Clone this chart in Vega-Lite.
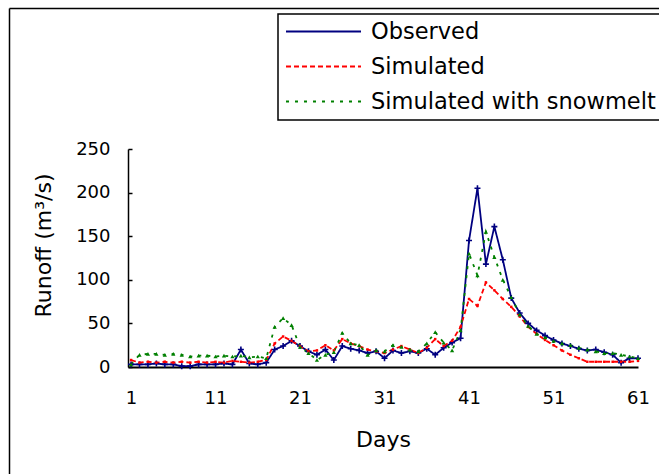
{
  "$schema": "https://vega.github.io/schema/vega-lite/v6.json",
  "width": 510,
  "height": 218,
  "autosize": {"type": "none"},
  "padding": {"left": 128, "top": 149, "right": 21, "bottom": 107},
  "background": "#ffffff",
  "data": {
    "values": [
      {"day": 1, "Observed": 3, "Simulated": 8, "Simulated with snowmelt": 3},
      {"day": 2, "Observed": 3, "Simulated": 5, "Simulated with snowmelt": 14},
      {"day": 3, "Observed": 3, "Simulated": 6, "Simulated with snowmelt": 15},
      {"day": 4, "Observed": 4, "Simulated": 5, "Simulated with snowmelt": 15},
      {"day": 5, "Observed": 3, "Simulated": 6, "Simulated with snowmelt": 14},
      {"day": 6, "Observed": 3, "Simulated": 5, "Simulated with snowmelt": 15},
      {"day": 7, "Observed": 1, "Simulated": 6, "Simulated with snowmelt": 14},
      {"day": 8, "Observed": 1, "Simulated": 5, "Simulated with snowmelt": 12},
      {"day": 9, "Observed": 3, "Simulated": 6, "Simulated with snowmelt": 13},
      {"day": 10, "Observed": 3, "Simulated": 5, "Simulated with snowmelt": 13},
      {"day": 11, "Observed": 3, "Simulated": 6, "Simulated with snowmelt": 12},
      {"day": 12, "Observed": 4, "Simulated": 5, "Simulated with snowmelt": 13},
      {"day": 13, "Observed": 3, "Simulated": 7, "Simulated with snowmelt": 12},
      {"day": 14, "Observed": 20, "Simulated": 6, "Simulated with snowmelt": 13},
      {"day": 15, "Observed": 4, "Simulated": 5, "Simulated with snowmelt": 11},
      {"day": 16, "Observed": 3, "Simulated": 6, "Simulated with snowmelt": 12},
      {"day": 17, "Observed": 5, "Simulated": 8, "Simulated with snowmelt": 10},
      {"day": 18, "Observed": 20, "Simulated": 27, "Simulated with snowmelt": 46},
      {"day": 19, "Observed": 24, "Simulated": 35, "Simulated with snowmelt": 56},
      {"day": 20, "Observed": 30, "Simulated": 30, "Simulated with snowmelt": 48},
      {"day": 21, "Observed": 24, "Simulated": 24, "Simulated with snowmelt": 23},
      {"day": 22, "Observed": 18, "Simulated": 18, "Simulated with snowmelt": 16},
      {"day": 23, "Observed": 14, "Simulated": 19, "Simulated with snowmelt": 8},
      {"day": 24, "Observed": 20, "Simulated": 25, "Simulated with snowmelt": 14},
      {"day": 25, "Observed": 8, "Simulated": 19, "Simulated with snowmelt": 17},
      {"day": 26, "Observed": 24, "Simulated": 32, "Simulated with snowmelt": 39},
      {"day": 27, "Observed": 21, "Simulated": 27, "Simulated with snowmelt": 27},
      {"day": 28, "Observed": 19, "Simulated": 24, "Simulated with snowmelt": 25},
      {"day": 29, "Observed": 16, "Simulated": 20, "Simulated with snowmelt": 14},
      {"day": 30, "Observed": 18, "Simulated": 18, "Simulated with snowmelt": 19},
      {"day": 31, "Observed": 10, "Simulated": 16, "Simulated with snowmelt": 18},
      {"day": 32, "Observed": 19, "Simulated": 20, "Simulated with snowmelt": 25},
      {"day": 33, "Observed": 16, "Simulated": 24, "Simulated with snowmelt": 23},
      {"day": 34, "Observed": 18, "Simulated": 20, "Simulated with snowmelt": 20},
      {"day": 35, "Observed": 16, "Simulated": 16, "Simulated with snowmelt": 18},
      {"day": 36, "Observed": 21, "Simulated": 22, "Simulated with snowmelt": 27},
      {"day": 37, "Observed": 14, "Simulated": 32, "Simulated with snowmelt": 40},
      {"day": 38, "Observed": 22, "Simulated": 24, "Simulated with snowmelt": 28},
      {"day": 39, "Observed": 28, "Simulated": 30, "Simulated with snowmelt": 19},
      {"day": 40, "Observed": 33, "Simulated": 46, "Simulated with snowmelt": 42},
      {"day": 41, "Observed": 145, "Simulated": 78, "Simulated with snowmelt": 130},
      {"day": 42, "Observed": 205, "Simulated": 70, "Simulated with snowmelt": 105},
      {"day": 43, "Observed": 118, "Simulated": 97, "Simulated with snowmelt": 155},
      {"day": 44, "Observed": 161, "Simulated": 88, "Simulated with snowmelt": 126},
      {"day": 45, "Observed": 123, "Simulated": 78, "Simulated with snowmelt": 100},
      {"day": 46, "Observed": 79, "Simulated": 69, "Simulated with snowmelt": 80},
      {"day": 47, "Observed": 62, "Simulated": 58, "Simulated with snowmelt": 60},
      {"day": 48, "Observed": 50, "Simulated": 46, "Simulated with snowmelt": 47},
      {"day": 49, "Observed": 42, "Simulated": 38, "Simulated with snowmelt": 38},
      {"day": 50, "Observed": 36, "Simulated": 31, "Simulated with snowmelt": 34},
      {"day": 51, "Observed": 31, "Simulated": 25, "Simulated with snowmelt": 30},
      {"day": 52, "Observed": 27, "Simulated": 19, "Simulated with snowmelt": 27},
      {"day": 53, "Observed": 24, "Simulated": 14, "Simulated with snowmelt": 25},
      {"day": 54, "Observed": 21, "Simulated": 10, "Simulated with snowmelt": 22},
      {"day": 55, "Observed": 19, "Simulated": 6, "Simulated with snowmelt": 20},
      {"day": 56, "Observed": 20, "Simulated": 6, "Simulated with snowmelt": 18},
      {"day": 57, "Observed": 17, "Simulated": 6, "Simulated with snowmelt": 16},
      {"day": 58, "Observed": 14, "Simulated": 6, "Simulated with snowmelt": 16},
      {"day": 59, "Observed": 5, "Simulated": 6, "Simulated with snowmelt": 14},
      {"day": 60, "Observed": 10, "Simulated": 6, "Simulated with snowmelt": 12},
      {"day": 61, "Observed": 10, "Simulated": 7, "Simulated with snowmelt": 10}
    ]
  },
  "transform": [
    {"fold": ["Observed", "Simulated", "Simulated with snowmelt"], "as": ["series", "value"]}
  ],
  "resolve": {"scale": {"x": "independent", "y": "independent"}, "axis": {"x": "independent", "y": "independent"}},
  "layer": [
    {
      "layer": [
        {
          "mark": {"type": "line", "strokeWidth": 1.8},
          "encoding": {
            "x": {
              "field": "day", "type": "quantitative",
              "scale": {"domain": [0.64, 61], "nice": false, "zero": false},
              "axis": {
                "values": [1, 11, 21, 31, 41, 51, 61],
                "ticks": false, "tickSize": 0, "labelPadding": 22, "labelFlush": false, "labelOverlap": false,
                "labelFont": "DejaVu Sans", "labelFontSize": 18, "labelColor": "#000000",
                "title": "Days", "titleFont": "DejaVu Sans", "titleFontSize": 22, "titleFontWeight": "normal",
                "titleColor": "#000000", "titleY": 72, "titleBaseline": "middle",
                "domainColor": "#000000", "domainWidth": 2, "grid": false
              }
            },
            "y": {
              "field": "value", "type": "quantitative",
              "scale": {"domain": [0, 250], "nice": false},
              "axis": {
                "values": [0, 50, 100, 150, 200, 250],
                "tickSize": -4, "tickColor": "#000000", "tickWidth": 1.5, "labelPadding": 22,
                "labelFont": "DejaVu Sans", "labelFontSize": 18, "labelColor": "#000000",
                "title": "Runoff (m³/s)", "titleFont": "DejaVu Sans", "titleFontSize": 22, "titleFontWeight": "normal",
                "titleColor": "#000000", "titleX": -85, "titleY": 96, "titleBaseline": "middle", "titleAlign": "center",
                "domainColor": "#000000", "domainWidth": 1.5, "grid": false
              }
            },
            "color": {
              "field": "series", "type": "nominal",
              "scale": {"domain": ["Observed", "Simulated", "Simulated with snowmelt"], "range": ["#000080", "#ff0000", "#008000"]},
              "legend": {
                "title": null, "orient": "none", "legendX": 150, "legendY": -135,
                "symbolType": "stroke", "symbolSize": 5625, "symbolStrokeWidth": 2, "clipHeight": 21,
                "labelFont": "DejaVu Sans", "labelFontSize": 22.5, "labelColor": "#000000", "labelOffset": 9, "labelLimit": 500,
                "padding": 7, "rowPadding": 12, "fillColor": "#ffffff", "strokeColor": "#000000"
              }
            },
            "strokeDash": {
              "field": "series", "type": "nominal",
              "scale": {"domain": ["Observed", "Simulated", "Simulated with snowmelt"], "range": [[1, 0], [5, 3], [3, 6]]},
              "legend": {
                "title": null, "orient": "none", "legendX": 150, "legendY": -135,
                "symbolType": "stroke", "symbolSize": 5625, "symbolStrokeWidth": 2, "clipHeight": 21,
                "labelFont": "DejaVu Sans", "labelFontSize": 22.5, "labelColor": "#000000", "labelOffset": 9, "labelLimit": 500,
                "padding": 7, "rowPadding": 12, "fillColor": "#ffffff", "strokeColor": "#000000"
              }
            }
          }
        },
        {
          "transform": [{"filter": "datum.series === 'Observed'"}],
          "mark": {"type": "point", "filled": false, "strokeWidth": 1.6, "color": "#000080", "shape": "M-1,0H1M0,-1V1", "size": 36, "opacity": 1},
          "encoding": {
            "x": {"field": "day", "type": "quantitative"},
            "y": {"field": "value", "type": "quantitative"}
          }
        },
        {
          "transform": [{"filter": "datum.series === 'Simulated'"}],
          "mark": {"type": "point", "filled": true, "color": "#ff0000", "shape": "square", "size": 6, "opacity": 1},
          "encoding": {
            "x": {"field": "day", "type": "quantitative"},
            "y": {"field": "value", "type": "quantitative"}
          }
        },
        {
          "transform": [{"filter": "datum.series === 'Simulated with snowmelt'"}],
          "mark": {"type": "point", "filled": true, "color": "#008000", "shape": "triangle-up", "size": 18, "opacity": 1},
          "encoding": {
            "x": {"field": "day", "type": "quantitative"},
            "y": {"field": "value", "type": "quantitative"}
          }
        }
      ]
    },
    {
      "mark": {"type": "point", "opacity": 0},
      "encoding": {
        "x": {
          "field": "day", "type": "quantitative",
          "scale": {"domain": [0, 1], "range": [-119, 600], "nice": false, "zero": false},
          "axis": {"orient": "top", "offset": 141, "ticks": false, "labels": false, "title": null, "grid": false, "domainColor": "#000000", "domainWidth": 1.5}
        },
        "y": {
          "field": "value", "type": "quantitative",
          "scale": {"domain": [0, 1], "range": [400, -141], "nice": false, "zero": false},
          "axis": {"orient": "left", "offset": 119, "ticks": false, "labels": false, "title": null, "grid": false, "domainColor": "#000000", "domainWidth": 1.5}
        }
      }
    }
  ],
  "config": {
    "view": {"stroke": null},
    "font": "DejaVu Sans",
    "legend": {"strokeWidth": 1.5}
  }
}
